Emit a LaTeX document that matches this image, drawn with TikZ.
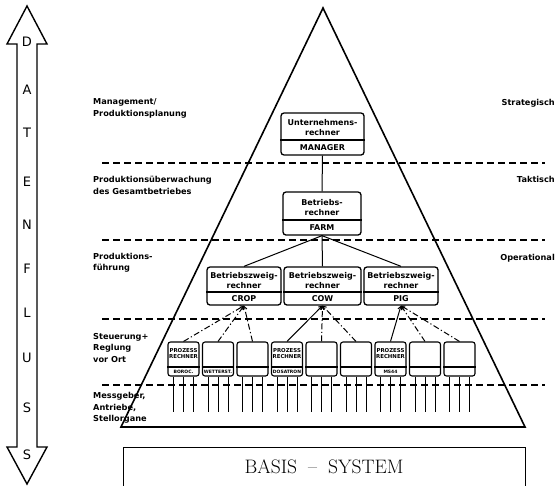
\documentclass[tikz,border=0pt]{standalone}
\usepackage{fontspec}
\newfontfamily\pf{DejaVu Sans}
\usetikzlibrary{arrows.meta}
\tikzset{
 lbl/.style={font=\pf\bfseries\fontsize{8.2}{11.5}\selectfont, align=left, anchor=west, inner sep=0pt},
 rlbl/.style={font=\pf\bfseries\fontsize{8.2}{11.5}\selectfont, anchor=east, inner sep=0pt},
 bigbox/.style={draw, line width=1.3pt, rounded corners=3pt, inner sep=0pt},
 divider/.style={line width=1.1pt},
 btxt/.style={font=\pf\bfseries\fontsize{8}{10}\selectfont, align=center, inner sep=0pt},
 sbox/.style={draw, line width=1.1pt, rounded corners=2.5pt, minimum width=31pt, minimum height=34pt, inner sep=0pt},
 stxt/.style={font=\pf\bfseries\fontsize{5.4}{6}\selectfont, align=center, inner sep=0pt},
 sbot/.style={font=\pf\bfseries\fontsize{4.5}{5}\selectfont, inner sep=0pt},
 level/.style={line width=1.2pt, dash pattern=on 7pt off 4pt},
 tree/.style={line width=1pt},
 dd/.style={line width=1pt, dash pattern=on 6pt off 2.5pt on 1.2pt off 2.5pt, -{Straight Barb[length=3pt,width=4pt]}},
 sl/.style={line width=1pt, -{Straight Barb[length=3pt,width=4pt]}},
 pinline/.style={line width=0.9pt},
 flow/.style={font=\pf\fontsize{13}{13}\selectfont, inner sep=0pt},
}
\begin{document}
\begin{tikzpicture}[x=1pt,y=-1pt]
\useasboundingbox (0,0) rectangle (556,485);

% Datenfluss arrow
\draw[line width=1.4pt, line join=miter] (27,6) -- (47,44) -- (37,44) -- (37,447) -- (47,447) -- (27,484) -- (7,447) -- (17,447) -- (17,44) -- (7,44) -- cycle;
\foreach \l/\yy in {D/42, A/90, T/133, E/182, N/225, F/269, L/313, U/358, S/408, S/455}
  \node[flow] at (27,\yy) {\l};

% pyramid
\coordinate (apex) at (323,8);
\coordinate (bl) at (121,427);
\coordinate (br) at (525,427);
\draw[line width=1.6pt, line join=miter] (bl) -- (apex) -- (br) -- cycle;

% level lines
\foreach \yy in {163,240,319,385}
  \draw[level] (102,\yy) -- (545,\yy);

% left labels
\node[lbl] (l1) at (93,108.5) {Management/\\Produktionsplanung};
\node[lbl] (l2) at (93,185.5) {Produktionsüberwachung\\des Gesamtbetriebes};
\node[lbl] (l3) at (93,263) {Produktions-\\führung};
\node[lbl] (l4) at (93,348) {Steuerung+\\Reglung\\vor Ort};
\node[lbl] (l5) at (93,408) {Messgeber,\\Antriebe,\\Stellorgane};

% right labels
\node[rlbl] (r1) at (555,103) {Strategisch};
\node[rlbl] (r2) at (555,179) {Taktisch};
\node[rlbl] (r3) at (555,258) {Operational};

% MANAGER
\node[bigbox, minimum width=83pt, minimum height=42pt] (mgr) at (322.5,134) {};
\coordinate (ym) at (0,140);
\draw[divider] (mgr.west |- ym) -- (mgr.east |- ym);
\node[btxt] (mgrt) at (322.5,128) {Unternehmens-\\rechner};
\node[btxt] (mgrn) at (322.5,148) {MANAGER};

% FARM
\node[bigbox, minimum width=78pt, minimum height=43pt] (farm) at (322,213.5) {};
\coordinate (yf) at (0,220);
\draw[divider] (farm.west |- yf) -- (farm.east |- yf);
\node[btxt] (farmt) at (322,208) {Betriebs-\\rechner};
\node[btxt] (farmn) at (322,228) {FARM};

\draw[tree] (mgr.south) -- (farm.north);

% branch computers
\coordinate (yb) at (0,292);
\foreach \nm/\cx/\w/\lab in {crop/244/74/CROP, cow/322.5/77/COW, pig/401/74/PIG}{
  \node[bigbox, minimum width=\w pt, minimum height=38pt] (\nm) at (\cx,286) {};
  \draw[divider] (\nm.west |- yb) -- (\nm.east |- yb);
  \node[btxt] at (\cx,280.5) {Betriebszweig-\\rechner};
  \node[btxt] at (\cx,298.5) {\lab};
}
\draw[tree] (farm.south) -- (crop.north);
\draw[tree] (farm.south) -- (cow.north);
\draw[tree] (farm.south) -- (pig.north);

% small process boxes
\coordinate (ys) at (0,367);
\foreach \i in {1,...,9}{
  \pgfmathsetmacro{\cx}{168+(\i-1)*34.5+15.5}
  \node[sbox] (s\i) at (\cx,359) {};
  \draw[divider] (s\i.west |- ys) -- (s\i.east |- ys);
  \foreach \dx in {-10,0,10}
    \draw[pinline] ([xshift=\dx pt]s\i.south) -- ++(0,35);
}
\node[stxt] at (s1.center |- 0,353.5) {PROZESS\\RECHNER};
\node[sbot] at (s1.center |- 0,371.5) {BOROC.};
\node[sbot] at (s2.center |- 0,371.5) {WETTERST.};
\node[stxt] at (s4.center |- 0,353.5) {PROZESS\\RECHNER};
\node[sbot] at (s4.center |- 0,371.5) {DOSATRON};
\node[stxt] at (s7.center |- 0,353.5) {PROZESS\\RECHNER};
\node[sbot] at (s7.center |- 0,371.5) {MS44};

% connectors to branch computers
\draw[dd] (s1.north) -- (crop.south);
\draw[dd] (s2.north) -- (crop.south);
\draw[dd] (s3.north) -- (crop.south);
\draw[sl] (s4.north) -- (cow.south);
\draw[dd] (s5.north) -- (cow.south);
\draw[dd] (s6.north) -- (cow.south);
\draw[sl] (s7.north) -- (pig.south);
\draw[dd] (s8.north) -- (pig.south);
\draw[dd] (s9.north) -- (pig.south);

% basis system
\node[draw, line width=1.4pt, minimum width=402pt, minimum height=44pt, anchor=north west, inner sep=0pt] (basis) at (123,447) {};
\node[font=\fontsize{19.5}{20}\selectfont, inner sep=0pt] (basist) at (324,467) {BASIS\hspace{11pt}--\hspace{11pt}SYSTEM};
\end{tikzpicture}
\end{document}
